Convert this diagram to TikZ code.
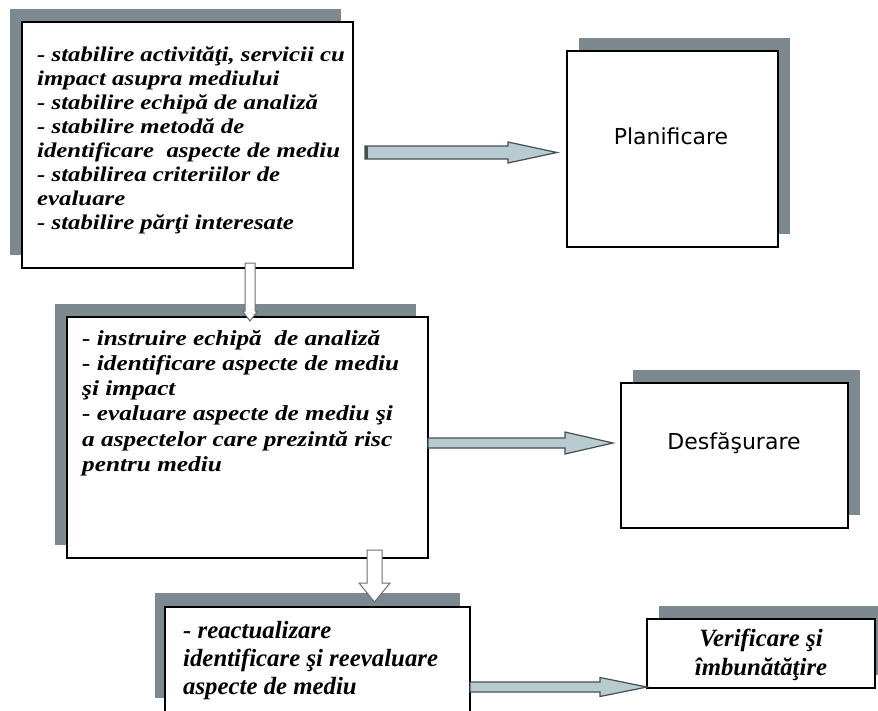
\documentclass[tikz,border=0pt]{standalone}
\usepackage{fontspec}
\setmainfont{Liberation Serif}
\newfontfamily\boxfont[FakeStretch=1.18]{Liberation Serif}
\newfontfamily\sansfnt{DejaVu Sans}
\usetikzlibrary{shadows,calc}
\definecolor{shadowcol}{RGB}{124,137,145}
\definecolor{arrowfill}{RGB}{183,203,208}
\definecolor{arrowline}{RGB}{70,78,82}
\definecolor{varrowline}{RGB}{110,110,110}
\tikzset{
  box/.style={draw=black, line width=1.1pt, fill=white, anchor=north west,
    inner sep=0pt, outer sep=0pt},
  shl/.style={general shadow={fill=shadowcol, shadow xshift=-12pt, shadow yshift=13pt}},
  shr/.style={general shadow={fill=shadowcol, shadow xshift=12pt, shadow yshift=13pt}},
  listA/.style={font=\boxfont\bfseries\itshape\fontsize{21}{23.9}\selectfont,
    align=left, anchor=north west, inner sep=0pt},
  listB/.style={font=\boxfont\bfseries\itshape\fontsize{21.4}{25.2}\selectfont,
    align=left, anchor=north west, inner sep=0pt},
  listC/.style={font=\bfseries\itshape\fontsize{24.8}{28}\selectfont,
    align=left, anchor=north west, inner sep=0pt},
  listD/.style={font=\bfseries\itshape\fontsize{24.8}{29}\selectfont,
    align=center, inner sep=0pt},
  sanslabel/.style={font=\sansfnt\fontsize{22}{26}\selectfont, inner sep=0pt},
  harrowstyle/.style={draw=arrowline, fill=arrowfill, line width=1.2pt, line join=miter},
  varrowstyle/.style={draw=varrowline, fill=white, line width=1pt, line join=miter},
}
% horizontal block arrow: start, tip, shaft half, head half, head length
\newcommand\hblock[5]{%
  \draw[harrowstyle] let \p1=(#1), \p2=(#2) in
    (\x1,\y1+#3pt) -- (\x2-#5pt,\y1+#3pt) -- (\x2-#5pt,\y1+#4pt) -- (\x2,\y1)
    -- (\x2-#5pt,\y1-#4pt) -- (\x2-#5pt,\y1-#3pt) -- (\x1,\y1-#3pt) -- cycle;}
% vertical block arrow (downwards): start, tip, shaft half, head half, head length
\newcommand\vblock[5]{%
  \draw[varrowstyle] let \p1=(#1), \p2=(#2) in
    (\x1-#3pt,\y1) -- (\x1-#3pt,\y2+#5pt) -- (\x1-#4pt,\y2+#5pt) -- (\x1,\y2)
    -- (\x1+#4pt,\y2+#5pt) -- (\x1+#3pt,\y2+#5pt) -- (\x1+#3pt,\y1) -- cycle;}
\begin{document}
\begin{tikzpicture}[x=1pt,y=-1pt]
\useasboundingbox (0,0) rectangle (878,710);
\clip (0,0) rectangle (878,710);
\fill[white] (0,0) rectangle (878,710);

% boxes
\node[box, shl, minimum width=331pt, minimum height=246pt] (b1) at (22,22) {};
\node[box, shl, minimum width=361pt, minimum height=241pt] (b2) at (67,317) {};
\node[box, general shadow={fill=shadowcol, shadow xshift=-10pt, shadow yshift=14pt},
      minimum width=305pt, minimum height=105pt] (b3) at (165,607) {};
\node[box, shr, minimum width=211pt, minimum height=196pt] (plan) at (567,51) {};
\node[box, shr, minimum width=227pt, minimum height=145pt] (desf) at (621,383) {};
\node[box, shr, minimum width=228pt, minimum height=69pt] (verif) at (647,619) {};

% texts
\node[listA] (t1) at (37,47) {- stabilire activităţi, servicii cu\\
impact asupra mediului\\
- stabilire echipă de analiză\\
- stabilire metodă de\\
identificare\ \ aspecte de mediu\\
- stabilirea criteriilor de\\
evaluare\\
- stabilire părţi interesate};

\node[listB] (t2) at (82,330) {- instruire echipă\ \ de analiză\\
- identificare aspecte de mediu\\
şi impact\\
- evaluare aspecte de mediu şi\\
a aspectelor care prezintă risc\\
pentru mediu};

\node[listC] (t3) at (183,621) {- reactualizare\\
identificare şi reevaluare\\
aspecte de mediu};

\node[listD] (t4) at (761,655) {Verificare şi\\ îmbunătăţire};

\node[sanslabel] (t5) at (671,136) {Planificare};
\node[sanslabel] (t6) at (734,443) {Desfăşurare};

% horizontal arrows
\hblock{$(b1.east)+(12,7.5)$}{$(plan.west)+(-10,0)$}{6.5}{10.5}{49}
\draw[arrowline, line width=3pt] let \p1=($(b1.east)+(13.5,7.5)$) in
  (\x1,\y1+6.5pt) -- (\x1,\y1-6.5pt);
\hblock{$(b2.east)+(0,5.5)$}{$(desf.west)+(-8,0)$}{5}{11}{48}
\hblock{$(b3.east)+(0,27.5)$}{$(verif.west)+(0,0)$}{5}{9.5}{47}

% vertical arrows
\vblock{$(b1.south)+(62.5,-5)$}{$(b2.north)+(0,4)$}{5}{7.5}{10}
\vblock{$(b2.south)+(127,-8)$}{$(b3.north)+(0,-5)$}{7.5}{15.5}{19}
\end{tikzpicture}
\end{document}
